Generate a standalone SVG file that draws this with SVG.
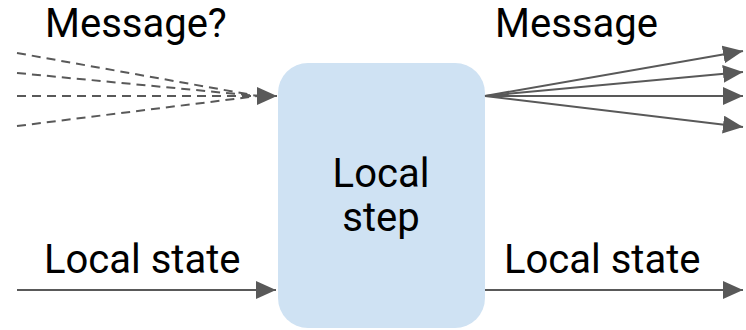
<svg xmlns="http://www.w3.org/2000/svg" width="746" height="330" viewBox="0 0 746 330">
  <style>
    .lbl { font-family: Roboto, "Liberation Sans", sans-serif; font-size: 40px; fill: #000000; }
    .edge { stroke: #595959; stroke-width: 2; fill: none; }
    .dash { stroke-dasharray: 9 6; }
  </style>
  <defs>
    <marker id="arrow" markerUnits="userSpaceOnUse" markerWidth="22" markerHeight="20" refX="20" refY="9" orient="auto">
      <path d="M0,0 L20,9 L0,18 z" fill="#595959"/>
    </marker>
  </defs>

  <!-- processing step -->
  <g id="local-step">
    <rect x="278" y="63" width="207" height="265" rx="30" ry="30" fill="#cfe2f3"/>
    <text class="lbl" x="381" y="187" text-anchor="middle">Local</text>
    <text class="lbl" x="381" y="231" text-anchor="middle">step</text>
  </g>

  <!-- labels -->
  <g id="label-message-in">
    <text class="lbl" x="45" y="37">Message?</text>
  </g>
  <g id="label-message-out">
    <text class="lbl" x="495" y="37">Message</text>
  </g>
  <g id="label-state-in">
    <text class="lbl" x="44" y="273">Local state</text>
  </g>
  <g id="label-state-out">
    <text class="lbl" x="504" y="273">Local state</text>
  </g>

  <!-- connectors -->
  <g id="connectors">
    <!-- incoming optional messages -->
    <line class="edge dash" x1="17" y1="53" x2="258" y2="96"/>
    <line class="edge dash" x1="17" y1="73" x2="258" y2="96"/>
    <line class="edge dash" x1="17" y1="126" x2="258" y2="96"/>
    <line class="edge dash" x1="17" y1="96" x2="277" y2="96" marker-end="url(#arrow)"/>
    <!-- outgoing messages -->
    <line class="edge" x1="485" y1="96" x2="743" y2="51" marker-end="url(#arrow)"/>
    <line class="edge" x1="485" y1="96" x2="743" y2="72" marker-end="url(#arrow)"/>
    <line class="edge" x1="485" y1="96" x2="743" y2="96" marker-end="url(#arrow)"/>
    <line class="edge" x1="485" y1="96" x2="743" y2="127" marker-end="url(#arrow)"/>
    <!-- state in / out -->
    <line class="edge" x1="17" y1="290" x2="276" y2="290" marker-end="url(#arrow)"/>
    <line class="edge" x1="485" y1="290" x2="743" y2="290" marker-end="url(#arrow)"/>
  </g>
</svg>
